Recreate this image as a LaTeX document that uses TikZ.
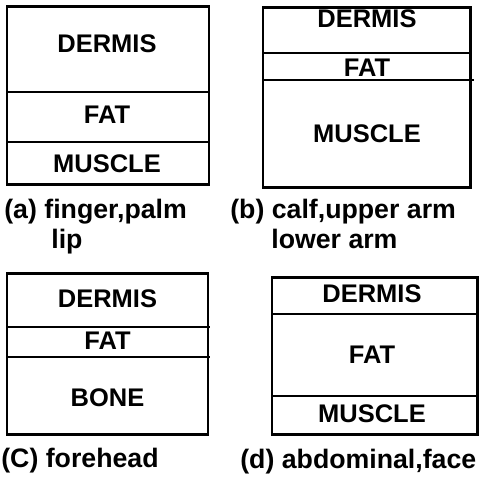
\documentclass[tikz,border=0pt]{standalone}
\usepackage{fontspec}
\setmainfont{Liberation Sans}
\usetikzlibrary{positioning}
\tikzset{
  outer/.style={line width=1.7pt},
  divider/.style={line width=1.3pt},
  layer/.style={font=\bfseries\fontsize{14.5}{17}\selectfont, inner sep=0pt},
  caption/.style={font=\bfseries\fontsize{15.2}{18}\selectfont, anchor=base west, inner sep=0pt}
}

\begin{document}
\begin{tikzpicture}[x=0.02cm,y=-0.02cm]
  \useasboundingbox (0,0) rectangle (483,478);
  %Box (a) with its three layers:
  \draw[outer] (7,6) rectangle (209,184);
  \draw[divider] (7,92) -- (209,92);
  \draw[divider] (7,142) -- (209,142);
  \node[layer] (dermisA) at (107,44) {DERMIS};
  \node[layer] (fatA) at (107,114.5) {FAT};
  \node[layer] (muscleA) at (107,163.5) {MUSCLE};
  \node[caption] (capA) at (4,218) {(a) finger,palm};
  \node[caption] (capAb) at (51,248) {lip};

  %Box (b):
  \draw[outer] (263,7) rectangle (470,187);
  \draw[divider] (263,53) -- (472,53);
  \draw[divider] (263,80) -- (474,80);
  \node[layer] (dermisB) at (367,18.5) {DERMIS};
  \node[layer] (fatB) at (367,67.5) {FAT};
  \node[layer] (muscleB) at (367,133.5) {MUSCLE};
  \node[caption] (capB) at (230,218) {(b) calf,upper arm};
  \node[caption] (capBb) at (271,248) {lower arm};

  %Box (c):
  \draw[outer] (7,273) rectangle (208,434);
  \draw[divider] (7,327) -- (210,327);
  \draw[divider] (7,357) -- (210,357);
  \node[layer] (dermisC) at (107.5,299) {DERMIS};
  \node[layer] (fatC) at (107.5,340.5) {FAT};
  \node[layer] (boneC) at (107.5,397.5) {BONE};
  \node[caption] (capC) at (1,467) {(C) forehead};

  %Box (d):
  \draw[outer] (272,277) rectangle (477,434);
  \draw[divider] (272,314) -- (477,314);
  \draw[divider] (272,396) -- (477,396);
  \node[layer] (dermisD) at (372,294) {DERMIS};
  \node[layer] (fatD) at (372,355) {FAT};
  \node[layer] (muscleD) at (372,413.5) {MUSCLE};
  \node[caption] (capD) at (240,468) {(d) abdominal,face};
\end{tikzpicture}
\end{document}
